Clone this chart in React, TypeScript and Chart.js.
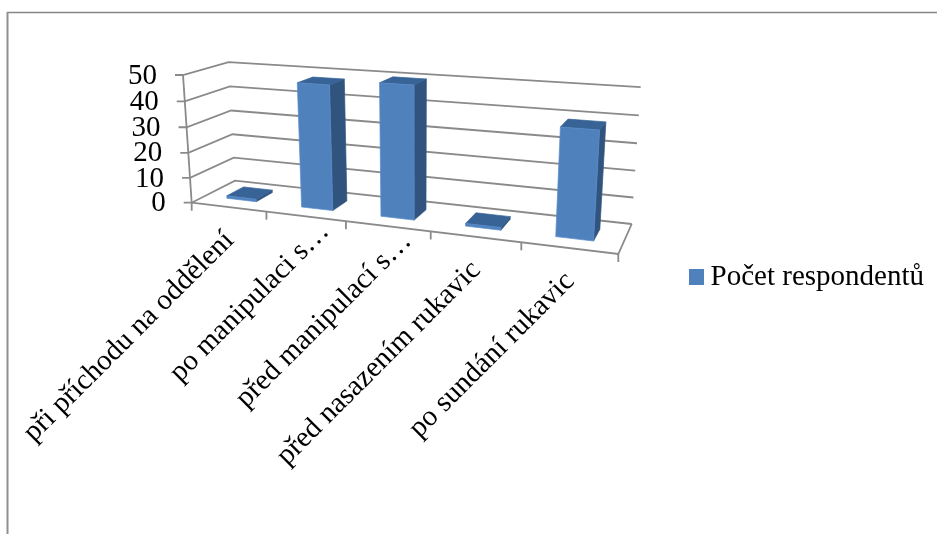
import React, { useEffect, useRef } from "react";
import { Chart, registerables } from "chart.js";

Chart.register(...registerables);

const categories = [
  "při příchodu na oddělení",
  "po manipulaci s…",
  "před manipulací s…",
  "před nasazením rukavic",
  "po sundání rukavic",
];
const seriesName = "Počet respondentů";
const respondents = [1, 48, 50, 1, 39];
const axisMax = 50;
const axisStep = 10;

const FONT = "'Liberation Serif', serif";
const GRID = "#8a8a8a";
const FRONT = "#4f81bd";
const TOP = "#376396";
const SIDE = "#31547e";

type P = [number, number];
// projected floor of the plot, ordered (front-left, front-right, back-right, back-left),
// and the point where the vertical edges converge
const floorQuad: P[] = [[191.7, 202.7], [618.3, 254], [631.7, 224], [235, 180.7]];
const VANISH: P = [416.6, 3505];
const RISE = -0.03723;
const DEPTH_FRONT = 0.3;
const DEPTH_BACK = 0.7;

function makeFloor(q: P[]) {
  const [[x0, y0], [x1, y1], [x2, y2], [x3, y3]] = q;
  const dx1 = x1 - x2, dx2 = x3 - x2, sx = x0 - x1 + x2 - x3;
  const dy1 = y1 - y2, dy2 = y3 - y2, sy = y0 - y1 + y2 - y3;
  const d = dx1 * dy2 - dx2 * dy1;
  const g = (sx * dy2 - dx2 * sy) / d;
  const h = (dx1 * sy - sx * dy1) / d;
  const a = x1 - x0 + g * x1, b = x3 - x0 + h * x3, c = x0;
  const e = y1 - y0 + g * y1, f = y3 - y0 + h * y3, k = y0;
  return (u: number, z: number) => {
    const w = g * u + h * z + 1;
    return { x: (a * u + b * z + c) / w, y: (e * u + f * z + k) / w, w };
  };
}
const floorAt = makeFloor(floorQuad);

function project(u: number, v: number, z: number): P {
  const b = floorAt(u, z);
  const t = RISE * v;
  const s = t / (b.w + t);
  return [b.x + (VANISH[0] - b.x) * s, b.y + (VANISH[1] - b.y) * s];
}

function line(ctx: CanvasRenderingContext2D, pts: P[]) {
  ctx.beginPath();
  pts.forEach((p, i) => (i ? ctx.lineTo(p[0], p[1]) : ctx.moveTo(p[0], p[1])));
  ctx.stroke();
}
function poly(ctx: CanvasRenderingContext2D, pts: P[], fill: string, edge?: string) {
  ctx.beginPath();
  pts.forEach((p, i) => (i ? ctx.lineTo(p[0], p[1]) : ctx.moveTo(p[0], p[1])));
  ctx.closePath();
  ctx.fillStyle = fill;
  ctx.fill();
  ctx.strokeStyle = edge || fill;
  ctx.lineWidth = 0.7;
  ctx.stroke();
}

const box3d = {
  id: "box3d",
  beforeDraw(chart: any) {
    const ctx = chart.ctx as CanvasRenderingContext2D;
    ctx.save();
    ctx.strokeStyle = "#868686";
    ctx.lineWidth = 1.3;
    line(ctx, [[7, 12.5], [937, 12.5]]);
    ctx.lineWidth = 2;
    ctx.strokeStyle = "#8f8f8f";
    line(ctx, [[7.5, 12], [7.5, 534]]);
    ctx.restore();
  },
  beforeDatasetsDraw(chart: any) {
    const ctx = chart.ctx as CanvasRenderingContext2D;
    const { chartArea: ca, scales } = chart;
    const fu = (px: number) => (px - ca.left) / (ca.right - ca.left);
    const fv = (py: number) => (ca.bottom - py) / (ca.bottom - ca.top);
    const ys = scales.y;
    const xs = scales.x;
    ctx.save();
    ctx.lineCap = "butt";
    ctx.strokeStyle = GRID;
    ctx.lineWidth = 1.8;

    // value gridlines on side wall and back wall, with ticks
    ys.ticks.forEach((t: any) => {
      const v = fv(ys.getPixelForValue(t.value));
      const a = project(0, v, 0);
      const b = project(0, v, 1);
      const c = project(1, v, 1);
      line(ctx, [[a[0] - 8, a[1]], a, b, c]);
    });
    // wall edge, floor edges
    line(ctx, [project(0, 0, 0), project(0, 1, 0)]);
    line(ctx, [project(0, 0, 0), project(1, 0, 0), project(1, 0, 1)]);

    // category ticks
    const n = categories.length;
    for (let i = 0; i <= n; i++) {
      const p = project(i / n, 0, 0);
      line(ctx, [p, [p[0], p[1] + 8]]);
    }

    // bars
    const meta = chart.getDatasetMeta(0);
    meta.data.forEach((el: any) => {
      const { x, y, base, width } = el.getProps(["x", "y", "base", "width"], true);
      const u0 = fu(x - width / 2);
      const u1 = fu(x + width / 2);
      const v0 = fv(base);
      const v1 = fv(y);
      const z0 = DEPTH_FRONT;
      const z1 = DEPTH_BACK;
      poly(ctx, [project(u1, v0, z0), project(u1, v0, z1), project(u1, v1, z1), project(u1, v1, z0)], SIDE);
      poly(ctx, [project(u0, v1, z0), project(u1, v1, z0), project(u1, v1, z1), project(u0, v1, z1)], TOP);
      poly(ctx, [project(u0, v0, z0), project(u1, v0, z0), project(u1, v1, z0), project(u0, v1, z0)], FRONT, "#5a8dcb");
    });

    // value labels
    ctx.fillStyle = "#000";
    ctx.font = `29px ${FONT}`;
    ctx.textAlign = "right";
    ctx.textBaseline = "middle";
    ys.ticks.forEach((t: any) => {
      const v = fv(ys.getPixelForValue(t.value));
      const a = project(0, v, 0);
      ctx.fillText(String(t.value), a[0] - 26, a[1] + 1);
    });

    // category labels; truncated ones sit further along their own direction
    categories.forEach((label, i) => {
      const p = project(fu(xs.getPixelForValue(i)), 0, 0);
      ctx.save();
      ctx.translate(p[0] + 1, p[1] + 29);
      ctx.rotate(-Math.PI / 4);
      ctx.textAlign = "right";
      ctx.textBaseline = "middle";
      ctx.fillText(label, label.endsWith("…") ? 26 : 0, 0);
      ctx.restore();
    });
    ctx.restore();
    return false;
  },
};

export default function App() {
  const ref = useRef<HTMLCanvasElement>(null);
  useEffect(() => {
    if (!ref.current) return;
    const swatch = document.createElement("canvas");
    swatch.width = 15;
    swatch.height = 16;
    const sctx = swatch.getContext("2d")!;
    sctx.fillStyle = FRONT;
    sctx.fillRect(0, 0, 15, 16);
    const chart = new Chart(ref.current, {
      type: "bar",
      data: {
        labels: categories,
        datasets: [
          {
            label: seriesName,
            data: respondents,
            backgroundColor: FRONT,
            barPercentage: 0.4,
            categoryPercentage: 1,
          },
        ],
      },
      options: {
        responsive: false,
        animation: false,
        layout: { padding: { top: 20, right: 3 } },
        scales: {
          x: { display: false },
          y: { display: false, min: 0, max: axisMax, ticks: { stepSize: axisStep } },
        },
        plugins: {
          tooltip: { enabled: false },
          legend: {
            position: "right",
            labels: {
              usePointStyle: true,
              pointStyle: swatch,
              boxWidth: 0.01,
              color: "#000",
              font: { family: FONT, size: 29 },
            },
          },
        },
      },
      plugins: [box3d],
    } as any);
    return () => chart.destroy();
  }, []);
  return (
    <canvas
      ref={ref}
      width={937}
      height={534}
      style={{ position: "fixed", left: 0, top: 0, display: "block" }}
    />
  );
}
